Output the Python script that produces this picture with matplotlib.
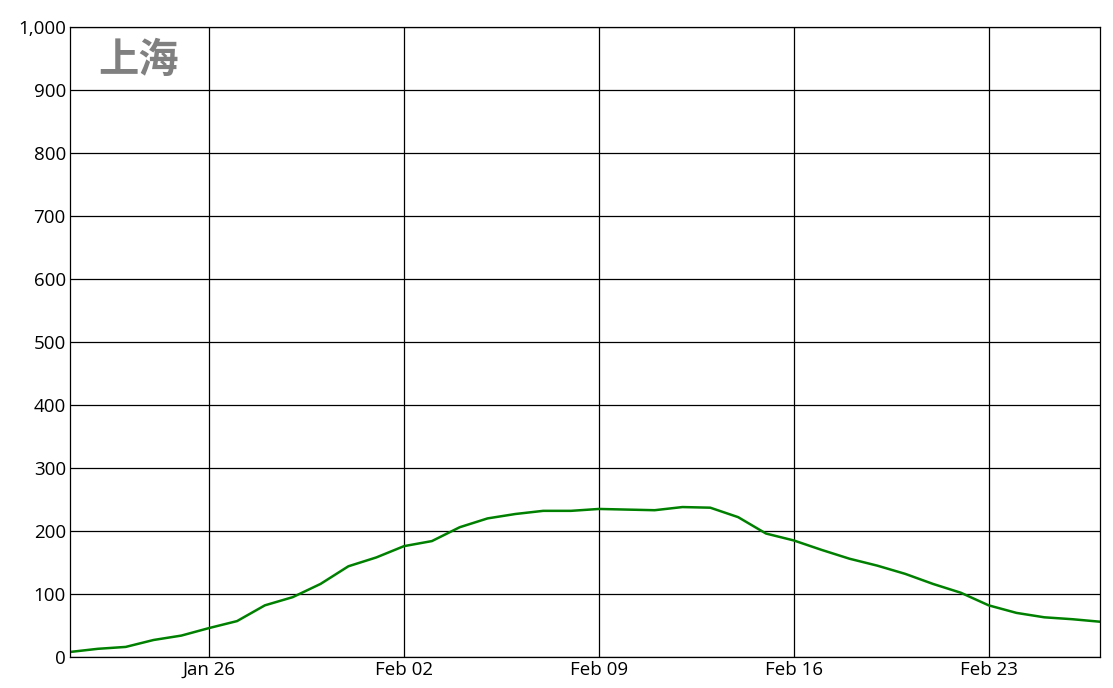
import matplotlib
matplotlib.use("Agg")
import matplotlib.pyplot as plt
import matplotlib.dates as mdates
import matplotlib.ticker as mticker
import numpy as np
import pandas as pd

dates = pd.date_range("2020-01-21", "2020-02-27", freq="D")
values = [8, 13, 16, 27, 34, 46, 57, 82, 95, 116, 144, 158, 176, 184, 206, 220,
          227, 232, 232, 235, 234, 233, 238, 237, 222, 196, 185, 170, 156, 145,
          132, 116, 102, 82, 70, 63, 60, 56]
title_text = "上海"
tick_dates = pd.to_datetime(["2020-01-26", "2020-02-02", "2020-02-09", "2020-02-16", "2020-02-23"])
y_ticks = list(range(0, 1001, 100))

plt.rcParams['font.family'] = ['Open Sans', 'DejaVu Sans']

fig = plt.figure(figsize=(11.13, 6.88), dpi=100)
ax = fig.add_axes([70/1113, 1 - 657/688, (1100-70)/1113, (657-27)/688])

ax.plot(dates, values, color="#008000", linewidth=1.8)

ax.set_xlim(dates[0], dates[-1])
ax.set_ylim(0, 1000)
ax.set_yticks(y_ticks)
ax.yaxis.set_major_formatter(mticker.FuncFormatter(lambda v, p: f"{int(v):,}"))
ax.set_xticks(tick_dates)
ax.xaxis.set_major_formatter(mdates.DateFormatter("%b %d"))
ax.grid(True, color="black", linewidth=0.9)
ax.set_axisbelow(True)
ax.tick_params(length=0, labelsize=13.5, pad=3, colors="black")
for s in ax.spines.values():
    s.set_color("black")
    s.set_linewidth(0.9)

ax.text(28/1030, 0.98, title_text, transform=ax.transAxes, fontsize=29,
        fontweight="bold", color="#808080", va="top", ha="left",
        family=["Noto Sans CJK SC", "DejaVu Sans"])

fig.savefig("out.png", dpi=100)
